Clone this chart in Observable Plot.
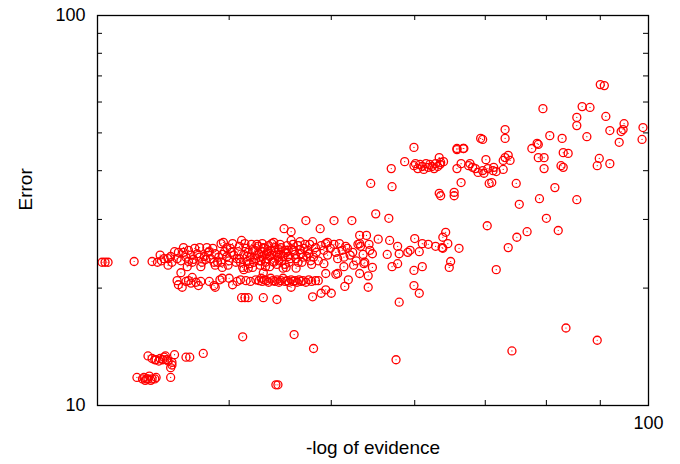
<!DOCTYPE html>
<html>
<head>
<meta charset="utf-8">
<script src="https://cdn.jsdelivr.net/npm/d3@7"></script>
<script src="https://cdn.jsdelivr.net/npm/@observablehq/plot@0.6"></script>
<style>
  html, body { margin: 0; padding: 0; background: #fff; }
</style>
</head>
<body>
<div id="chart"></div>
<script>
// Axis ticks and labels
const xMinorTicks = [40, 50, 60, 70, 80, 90];
const yMinorTicks = [20, 30, 40, 50, 60, 70, 80, 90];
const xTickLabels = [100];
const yTickLabels = [10, 100];
const xLabel = "-log of evidence";
const yLabel = "Error";

// Points: [-log of evidence, Error]
const farLeft = [[30.3,23.3],[30.5,23.3],[30.7,23.3]];

const upperBand = [
  [32.5,23.4],[33.8,23.4],[34.5,23.5],[34.7,23.8],[35.0,23.8],[35.2,24.1],[35.3,23.3],[35.0,22.9],
  [35.5,24.8],[35.7,23.8],[35.8,24.7],[36.0,23.5],[36.2,25.4],[36.2,24.7],[36.4,24.0],[36.6,23.4],
  [36.8,24.3],[37.0,23.7],[37.1,25.3],[37.3,24.5],[37.5,25.4],[37.5,24.0],[37.7,23.3],[37.9,24.1],
  [38.1,25.4],[38.2,24.7],[38.4,23.8],[38.6,25.3],[38.7,23.3],[38.8,24.5],[39.1,24.0],[39.3,26.0],
  [39.3,23.3],[39.4,22.6],[39.5,26.2],[39.6,24.8],[39.8,24.1],[39.9,22.9],[40.0,23.5],[40.1,25.3],
  [40.3,26.0],[40.4,24.3],[40.6,23.3],[40.8,24.8],[40.9,23.8],[41.1,26.5],[41.2,22.6],[41.3,24.4],
  [41.5,25.3],[41.6,23.4],[41.7,22.5],[41.7,24.7],[41.9,24.0],[42.0,25.9],[42.1,22.6],[42.2,23.3],
  [42.3,25.0],[42.5,24.3],[42.6,25.6],[42.7,23.5],[42.8,22.9],[42.9,24.8],[43.0,26.0],[43.0,24.1],
  [43.1,21.9],[43.2,25.3],[43.3,23.3],[43.4,24.5],[43.5,23.8],[43.6,25.7],[43.7,22.7],[43.8,25.0],
  [43.9,24.3],[44.0,23.4],[44.1,26.2],[44.2,25.4],[44.3,24.7],[44.4,23.0],[44.5,24.0],[44.6,25.1],
  [44.7,25.9],[44.8,24.4],[44.9,23.5],[45.0,22.5],[45.1,28.4],[45.2,25.0],[45.3,24.7],[45.3,22.6],
  [45.4,25.7],[45.5,24.1],[45.6,23.3],[45.8,26.5],[45.8,27.9],[45.9,25.1],[46.1,25.0],[46.3,23.8],
  [46.3,22.5],[46.5,25.7],[46.7,26.3],[46.8,24.5],[46.9,23.3],[47.1,25.3],[47.3,29.8],[47.4,24.1],
  [47.5,25.0],[47.7,25.9],[47.9,23.0],[48.0,26.3],[48.1,24.0],[48.3,25.4],[48.4,24.7],[48.6,23.5],
  [48.8,28.4],[48.9,25.7],[49.2,25.0],[49.2,23.1],[49.4,26.0],[49.6,26.2],[49.6,24.3],[49.9,25.3],
  [50.3,29.8],[50.3,25.9],[50.5,24.7],[50.7,23.8],[50.9,26.0],[51.2,25.0],[51.4,24.0],[51.4,22.7],
  [51.6,25.6],[51.8,25.3],[52.1,24.3],[52.3,29.8],[52.4,24.7],[52.8,23.5],[53.0,25.9],[53.2,27.3],
  [53.2,26.0],[53.3,25.6],[53.6,24.4],[53.7,23.1],[53.8,23.3],[54.0,27.3],[54.3,25.9],[54.4,25.0],
  [54.7,24.5],[54.7,22.6],[55.1,31.0],[55.4,26.7],[56.5,24.4],[56.7,30.2],[56.8,26.5],[57.1,22.7],
  [57.8,25.6],[57.8,23.1],[58.0,24.5],[59.1,24.7],[59.4,25.0],[60.0,26.8],[60.6,24.8],[61.0,26.0],
  [61.0,22.7],[61.8,25.9],[62.8,25.6],[63.7,25.4],[63.8,27.0],[64.2,27.8],[64.5,26.0],[66.1,25.3],
  [63.8,25.3],[64.7,22.6],[64.9,23.4],[59.9,22.2],[36.5,22.7],[37.6,22.7],[38.8,22.9]
];

const upperBandCore = [
  [40.7,23.8],[40.9,25.6],[41.0,23.3],[41.4,26.0],[41.6,24.1],[41.8,23.1],[42.1,25.1],[42.4,23.8],
  [42.5,25.9],[42.7,24.5],[42.9,23.5],[43.1,25.4],[43.3,22.7],[43.5,24.8],[43.7,24.1],[43.9,26.0],
  [44.1,23.3],[44.4,24.3],[44.6,23.5],[44.8,25.4],[45.0,24.1],[45.2,23.0],[45.5,25.0],[45.7,23.8],
  [46.0,25.9],[46.2,24.4],[46.5,23.3],[46.7,25.1],[47.0,24.0],[47.2,25.9],[47.6,24.5],[47.8,23.5],
  [36.6,25.0],[36.9,23.3],[38.0,23.7],[38.3,24.8],[39.0,23.3],[39.4,24.4],[39.8,25.4],[40.2,24.7],
  [34.4,24.3],[34.2,23.3]
];

const lowerBand = [
  [35.7,20.9],[36.0,21.9],[35.8,20.4],[36.1,20.1],[36.4,20.8],[36.6,20.9],[36.8,20.6],[36.9,21.3],
  [37.2,20.7],[37.4,20.3],[37.6,20.8],[38.3,20.8],[38.7,20.3],[38.8,20.1],[39.2,21.0],[39.4,21.2],
  [40.0,21.2],[40.3,20.4],[40.7,20.8],[41.0,21.0],[41.3,22.3],[41.5,20.9],[41.9,20.8],[42.4,21.0],
  [42.7,20.9],[42.9,21.2],[43.0,20.8],[43.2,21.0],[43.4,20.9],[43.6,20.7],[43.8,21.2],[44.0,20.9],
  [44.2,20.8],[44.4,21.0],[44.6,20.7],[44.8,20.9],[45.0,21.2],[45.2,20.8],[45.4,20.9],[45.6,20.7],
  [45.8,21.0],[46.0,20.8],[46.2,20.9],[46.4,20.7],[46.6,21.0],[46.8,20.8],[47.0,20.9],[47.3,20.7],
  [47.6,21.0],[47.9,20.8],[48.3,20.9],[48.6,20.9],[45.8,20.1],[48.0,19.0],[48.9,19.4],[49.4,19.8],
  [50.0,19.4],[51.5,20.2],[51.9,21.0],[54.2,20.1],[54.2,21.5],[53.2,21.8],[50.7,21.8],[50.5,21.7],
  [49.4,21.8],[52.5,22.9]
];

const lowerRow = [[41.1,18.9],[41.4,18.9],[41.7,18.9],[43.1,18.9],[44.4,18.7]];

const isolated = [
  [41.2,15.0],[46.1,15.2],[48.1,14.0],[57.6,13.1],[44.3,11.3],[44.5,11.3],
  [58.0,18.4],[60.6,19.4],[59.9,20.3],[74.2,13.8],[83.5,15.8],[89.4,14.7]
];

const lowLeftA = [
  [33.5,13.4],[33.8,13.2],[34.0,13.1],[34.1,13.1],[34.3,13.0],[34.4,13.2],[34.6,13.1],[34.7,13.3],
  [34.9,13.1],[35.0,13.0],[34.8,13.4],[35.5,13.5],[35.3,12.9],[35.3,12.7],[35.2,12.5],[36.4,13.3],
  [36.7,13.3],[37.8,13.6]
];

const lowLeftB = [
  [32.7,11.8],[33.1,11.7],[33.2,11.8],[33.4,11.7],[33.5,11.7],[33.7,11.6],[33.8,11.7],[34.0,11.7],
  [34.1,11.8],[33.3,11.6],[33.6,11.9],[35.2,11.8]
];

const midCluster = [
  [57.0,40.5],[58.7,42.2],[59.9,45.9],[59.9,41.2],[60.1,41.7],[60.4,40.5],[60.7,41.5],[61.0,41.0],
  [61.2,40.3],[61.5,41.7],[61.8,40.8],[62.0,41.5],[62.3,41.0],[62.6,40.5],[62.8,41.7],[63.1,41.0],
  [63.4,41.5],[63.5,42.0],[63.9,42.2],[63.3,43.2],[65.8,45.6],[66.8,45.6],[66.4,41.7],[65.8,40.5],
  [67.5,41.2],[54.5,37.1],[57.1,36.4],[63.3,35.0],[66.4,37.3],[65.4,35.2],[63.5,34.5],[65.4,34.5]
];

const rightScatter = [
  [90.0,66.5],[90.8,66.1],[79.4,57.7],[86.5,58.4],[88.0,58.1],[91.1,55.1],[85.5,54.8],[85.5,52.2],
  [94.8,52.8],[98.8,51.6],[91.9,50.7],[94.2,50.4],[94.6,51.0],[98.6,48.1],[93.8,47.3],[87.4,48.9],
  [80.6,49.2],[82.8,48.4],[78.4,47.0],[78.6,46.7],[77.5,45.6],[73.1,51.0],[73.1,48.4],[69.3,48.4],
  [69.6,48.1],[65.8,45.3],[66.7,45.6],[83.0,44.5],[83.9,44.3],[78.6,43.2],[79.6,43.2],[79.6,40.5],
  [82.6,41.2],[83.0,40.8],[89.8,43.0],[91.9,41.7],[89.4,41.2],[67.7,41.7],[68.1,40.8],[70.1,42.7],
  [68.9,39.6],[68.5,40.5],[69.6,40.0],[69.8,39.4],[70.4,40.5],[71.2,40.0],[71.3,40.8],[71.7,39.8],
  [72.8,40.3],[72.8,42.5],[73.6,43.8],[73.1,43.2],[73.9,42.5],[70.6,37.1],[71.0,37.3],[74.9,37.1],
  [81.5,36.2],[78.8,33.9],[85.5,33.7],[75.4,32.8],[80.0,30.2],[70.3,28.9],[76.7,27.9],[82.1,28.1],
  [75.0,27.0],[73.6,25.4],[71.7,22.3]
];

const groups = [farLeft, upperBand, upperBandCore, lowerBand, lowerRow, isolated, lowLeftA, lowLeftB, midCluster, rightScatter];
const points = groups.flat().map(([evidence, error]) => ({evidence, error}));

const font = "'Liberation Sans', Arial, Helvetica, sans-serif";

const chart = Plot.plot({
  width: 680,
  height: 464,
  marginLeft: 97,
  marginRight: 32,
  marginTop: 15,
  marginBottom: 59,
  x: {type: "log", domain: [30, 100]},
  y: {type: "log", domain: [10, 100]},
  style: {fontFamily: font, fontSize: "18px", background: "white", color: "black"},
  marks: [
    Plot.tickX(xMinorTicks, {x: d => d, insetTop: 385, stroke: "black"}),
    Plot.tickX(xMinorTicks, {x: d => d, insetBottom: 385, stroke: "black"}),
    Plot.tickY(yMinorTicks, {y: d => d, insetLeft: 546, stroke: "black"}),
    Plot.tickY(yMinorTicks, {y: d => d, insetRight: 546, stroke: "black"}),
    Plot.axisX(xTickLabels, {tickSize: 0, tickPadding: 11, tickFormat: d => String(d), label: null, fontSize: 18}),
    Plot.axisY(yTickLabels, {tickSize: 0, tickPadding: 12, tickFormat: d => String(d), label: null, fontSize: 18}),
    Plot.dot(points, {x: "evidence", y: "error", r: 4, stroke: "#ff0000", strokeWidth: 1.3, fill: "none"}),
    Plot.dot(points, {x: "evidence", y: "error", r: 0.6, fill: "#ff0000", stroke: "none"}),
    Plot.frame({stroke: "black", strokeWidth: 1.3}),
    Plot.text([xLabel], {frameAnchor: "bottom", dy: 48, text: d => d, fontSize: 19, fill: "black"}),
    Plot.text([yLabel], {frameAnchor: "left", dx: -72, rotate: -90, text: d => d, fontSize: 19, fill: "black"})
  ]
});

document.getElementById("chart").appendChild(chart);
</script>
</body>
</html>
